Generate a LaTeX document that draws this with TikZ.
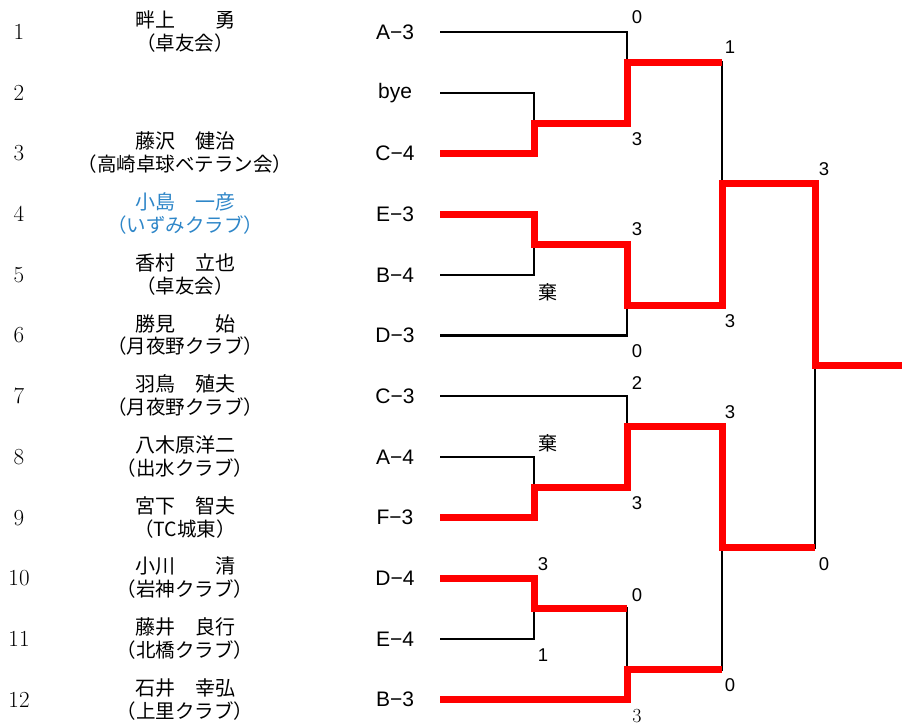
\documentclass[tikz,border=0pt]{standalone}
\usepackage{fontspec}
\setsansfont{Liberation Sans}
\newfontfamily\jp{Noto Sans CJK JP}
\definecolor{clubblue}{RGB}{46,134,200}

\begin{document}
\begin{tikzpicture}[x=1pt, y=-1pt,
    num node/.style={font=\fontsize{23}{23}\selectfont, inner sep=0pt},
    name node/.style={font=\jp\fontsize{20}{20}\selectfont, inner sep=0pt},
    club node/.style={font=\jp\fontsize{19.5}{19.5}\selectfont, inner sep=0pt},
    code node/.style={font=\sffamily\fontsize{21}{21}\selectfont, inner sep=0pt},
    score node/.style={font=\sffamily\fontsize{18.5}{18.5}\selectfont, inner sep=0pt},
    lose/.style={line width=2.4pt},
    win/.style={red, line width=7pt}]

  \useasboundingbox (0,0) rectangle (902,726);

  % entries
  \foreach \i/\code in {1/A−3, 2/bye, 3/C−4, 4/E−3, 5/B−4, 6/D−3,
                        7/C−3, 8/A−4, 9/F−3, 10/D−4, 11/E−4, 12/B−3} {
    \node[num node] (n\i) at (19, {32+(\i-1)*60.7}) {\i};
    \node[code node] (c\i) at (395, {32+(\i-1)*60.7}) {\code};
    \coordinate (s\i) at (440, {32+(\i-1)*60.7});
  }

  \foreach \i/\nm/\club/\col in {1/畔上　　勇/（卓友会）/black,
      3/藤沢　健治/（高崎卓球ベテラン会）/black,
      4/小島　一彦/（いずみクラブ）/clubblue,
      5/香村　立也/（卓友会）/black,
      6/勝見　　始/（月夜野クラブ）/black,
      7/羽鳥　殖夫/（月夜野クラブ）/black,
      8/八木原洋二/（出水クラブ）/black,
      9/宮下　智夫/（TC城東）/black,
      10/小川　　清/（岩神クラブ）/black,
      11/藤井　良行/（北橋クラブ）/black,
      12/石井　幸弘/（上里クラブ）/black} {
    \node[name node, text=\col] (nm\i) at (185, {32+(\i-1)*60.7-12}) {\nm};
    \node[club node, text=\col] (cl\i) at (185, {32+(\i-1)*60.7+11}) {\club};
  }

  % junctions
  \coordinate (m1)   at (627, {32+1*30.35});
  \coordinate (m23)  at (534, {32+3*30.35});
  \coordinate (m16)  at (722, {32+5*30.35});
  \coordinate (m45)  at (534, {32+7*30.35});
  \coordinate (m6)   at (627, {32+9*30.35});
  \coordinate (fin)  at (815, {32+11*30.35});
  \coordinate (m7)   at (627, {32+13*30.35});
  \coordinate (m89)  at (534, {32+15*30.35});
  \coordinate (m712) at (722, {32+17*30.35});
  \coordinate (m1011) at (534, {32+19*30.35});
  \coordinate (m12)  at (627, {32+21*30.35});
  \coordinate (champ) at (902, {32+11*30.35});

  % bracket
  \draw[lose] (s2) -| (m23) |- (s3);
  \draw[lose] (s1) -| (m1) |- (m23);
  \draw[lose] (s4) -| (m45) |- (s5);
  \draw[lose] (m45) -| (m6) |- (s6);
  \draw[lose] (m1) -| (m16) |- (m6);
  \draw[lose] (s8) -| (m89) |- (s9);
  \draw[lose] (s7) -| (m7) |- (m89);
  \draw[lose] (s10) -| (m1011) |- (s11);
  \draw[lose] (m1011) -| (m12) |- (s12);
  \draw[lose] (m7) -| (m712) |- (m12);
  \draw[lose] (m16) -| (fin) |- (m712);

  % winners
  \draw[win] (s3) -| (m23) -| (m1) -- (m1 -| m16);
  \draw[win] (s4) -| (m45) -| (m6) -| (m16) -| (fin) -- (champ);
  \draw[win] (s9) -| (m89) -| (m7) -| (m712) -- (m712 -| fin);
  \draw[win] (s10) -| (m1011) -- (m1011 -| m12);
  \draw[win] (s12) -| (m12) -- (m12 -| m712);

  % scores
  \foreach \x/\y/\s [count=\k] in {637/17/0, 637/139/3, 730/47/1, 730/321/3,
      548/292/{\jp\fontsize{19}{19}\selectfont 棄}, 637/229/3, 637/351/0,
      824/169/3, 824/564/0, 637/383/2, 637/503/3,
      548/443/{\jp\fontsize{19}{19}\selectfont 棄}, 730/412/3, 730/685/0,
      543/564/3, 543/655/1, 637/595/0}
    \node[score node] (sc\k) at (\x,\y) {\s};
  \node[num node, font=\fontsize{20}{20}\selectfont] (sc18) at (637,716) {3};
\end{tikzpicture}
\end{document}
